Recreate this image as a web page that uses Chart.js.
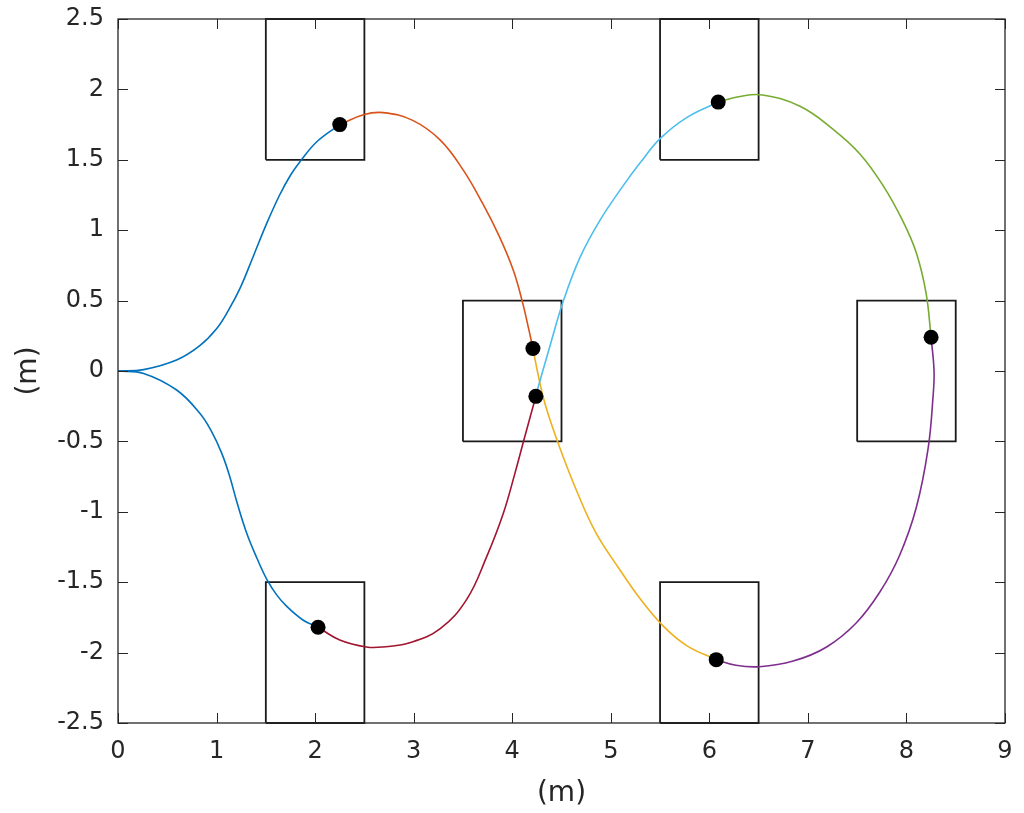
<!DOCTYPE html>
<html>
<head>
<meta charset="utf-8">
<script src="https://cdn.jsdelivr.net/npm/chart.js@4/dist/chart.umd.min.js"></script>
<style>
html,body{margin:0;padding:0;background:#fff;}
#wrap{width:1024px;height:813px;position:relative;}
</style>
</head>
<body>
<div id="wrap"><canvas id="c" width="1024" height="813"></canvas></div>
<script>
// ---- Data ----
const xTicks = [0,1,2,3,4,5,6,7,8,9];
const yTicks = [-2.5,-2,-1.5,-1,-0.5,0,0.5,1,1.5,2,2.5];
const xTickLabels = ['0','1','2','3','4','5','6','7','8','9'];
const yTickLabels = ['-2.5','-2','-1.5','-1','-0.5','0','0.5','1','1.5','2','2.5'];
const axisTitleX = '(m)';
const axisTitleY = '(m)';

const blueUpX = [0, 0.26, 0.60, 0.83, 1.00, 1.12, 1.24, 1.37, 1.51, 1.64, 1.75, 1.85, 2.02, 2.25];
const blueUpY = [0, 0.01, 0.08, 0.18, 0.30, 0.43, 0.59, 0.81, 1.05, 1.25, 1.39, 1.49, 1.63, 1.75];

const blueLowX = [0, 0.26, 0.595, 0.83, 0.95, 1.05, 1.13, 1.21, 1.31, 1.41, 1.51, 1.61, 1.71, 1.88, 2.03];
const blueLowY = [0, -0.017, -0.135, -0.30, -0.43, -0.58, -0.74, -0.94, -1.16, -1.33, -1.48, -1.59, -1.67, -1.77, -1.82];

const orangeX = [2.25, 2.49, 2.69, 2.99, 3.27, 3.50, 3.70, 3.87, 4.01, 4.10, 4.17, 4.21];
const orangeY = [1.75, 1.82, 1.835, 1.78, 1.64, 1.43, 1.19, 0.954, 0.717, 0.50, 0.29, 0.16];

const redX = [2.03, 2.25, 2.52, 2.69, 2.96, 3.27, 3.54, 3.74, 3.91, 4.03, 4.13, 4.24];
const redY = [-1.82, -1.91, -1.96, -1.96, -1.93, -1.83, -1.62, -1.32, -1.01, -0.72, -0.46, -0.18];

const cyanX = [4.24, 4.38, 4.52, 4.69, 4.89, 5.13, 5.30, 5.50, 5.77, 6.09];
const cyanY = [-0.17, 0.17, 0.50, 0.81, 1.07, 1.32, 1.48, 1.65, 1.80, 1.91];

const greenX = [6.09, 6.31, 6.54, 6.92, 7.25, 7.53, 7.76, 7.96, 8.10, 8.20, 8.25];
const greenY = [1.91, 1.95, 1.96, 1.88, 1.72, 1.54, 1.32, 1.07, 0.84, 0.55, 0.24];

const yellowX = [4.21, 4.27, 4.34, 4.48, 4.65, 4.85, 5.09, 5.30, 5.53, 5.77, 6.07];
const yellowY = [0.16, -0.05, -0.25, -0.54, -0.845, -1.15, -1.41, -1.62, -1.81, -1.95, -2.05];

const purpleX = [6.07, 6.27, 6.51, 6.85, 7.19, 7.49, 7.73, 7.93, 8.10, 8.22, 8.27, 8.28, 8.25];
const purpleY = [-2.05, -2.09, -2.10, -2.06, -1.96, -1.79, -1.57, -1.31, -0.97, -0.55, -0.18, 0.0, 0.24];

const dotX = [2.25, 2.03, 4.21, 4.24, 6.09, 6.07, 8.25];
const dotY = [1.75, -1.82, 0.16, -0.18, 1.91, -2.05, 0.24];

// rectangles: centre x, centre y, half width, half height
const boxCX = [2, 6, 4, 8, 2, 6];
const boxCY = [2, 2, 0, 0, -2, -2];
const boxHalfW = 0.5;
const boxHalfH = 0.5;

// ---- Build datasets ----
const pts = (xs, ys) => xs.map((x, i) => ({x: x, y: ys[i]}));
const curves = [
  {x: blueUpX, y: blueUpY, c: '#0072BD'},
  {x: blueLowX, y: blueLowY, c: '#0072BD'},
  {x: orangeX, y: orangeY, c: '#D95319'},
  {x: redX, y: redY, c: '#A2142F'},
  {x: cyanX, y: cyanY, c: '#4DBEEE'},
  {x: yellowX, y: yellowY, c: '#EDB120'},
  {x: greenX, y: greenY, c: '#77AC30'},
  {x: purpleX, y: purpleY, c: '#7E2F8E'}
];
const datasets = [];
datasets.push({
  type: 'scatter', data: pts(dotX, dotY), pointRadius: 7.5, pointHoverRadius: 7.5,
  backgroundColor: '#000', borderWidth: 0, order: 0
});
curves.forEach(cv => datasets.push({
  type: 'line', data: pts(cv.x, cv.y), borderColor: cv.c, borderWidth: 1.6,
  pointRadius: 0, fill: false, order: 1, tension: 0.4
}));
boxCX.forEach((cx, i) => {
  const cy = boxCY[i];
  datasets.push({
    type: 'line',
    data: [
      {x: cx - boxHalfW, y: cy - boxHalfH}, {x: cx + boxHalfW, y: cy - boxHalfH},
      {x: cx + boxHalfW, y: cy + boxHalfH}, {x: cx - boxHalfW, y: cy + boxHalfH},
      {x: cx - boxHalfW, y: cy - boxHalfH}
    ],
    borderColor: '#1a1a1a', borderWidth: 1.8, pointRadius: 0, tension: 0, fill: false,
    order: 2, clip: 4
  });
});

const TXT = '#262626';
const FONT = 'DejaVu Sans';

// frame + inward ticks on all four sides (MATLAB box style)
const framePlugin = {
  id: 'frame',
  afterDatasetsDraw(chart) {
    const {ctx, chartArea: a, scales} = chart;
    const L = 10;
    ctx.save();
    ctx.strokeStyle = TXT;
    ctx.lineWidth = 1;
    ctx.beginPath();
    scales.x.ticks.forEach(t => {
      const px = Math.round(scales.x.getPixelForValue(t.value)) + 0.5;
      ctx.moveTo(px, a.bottom); ctx.lineTo(px, a.bottom - L);
      ctx.moveTo(px, a.top); ctx.lineTo(px, a.top + L);
    });
    scales.y.ticks.forEach(t => {
      const py = Math.round(scales.y.getPixelForValue(t.value)) + 0.5;
      ctx.moveTo(a.left, py); ctx.lineTo(a.left + L, py);
      ctx.moveTo(a.right, py); ctx.lineTo(a.right - L, py);
    });
    ctx.stroke();
    ctx.lineWidth = 1.3;
    ctx.strokeRect(a.left, a.top, a.right - a.left, a.bottom - a.top);
    ctx.restore();
  }
};

new Chart(document.getElementById('c'), {
  data: {datasets: datasets},
  options: {
    responsive: false,
    animation: false,
    events: [],
    layout: {padding: {top: 19, right: 19, left: 0, bottom: 0}},
    plugins: {legend: {display: false}, tooltip: {enabled: false}},
    scales: {
      x: {
        type: 'linear', min: 0, max: 9,
        afterBuildTicks: s => { s.ticks = xTicks.map(v => ({value: v})); },
        afterFit: s => { s.height = 90; s.paddingLeft = 0; s.paddingRight = 0; },
        grid: {display: false, drawTicks: false},
        border: {display: false},
        ticks: {
          padding: 14, color: TXT, font: {family: FONT, size: 24},
          maxRotation: 0, autoSkip: false,
          callback: (v) => xTickLabels[xTicks.indexOf(v)]
        },
        title: {display: true, text: axisTitleX, color: TXT, font: {family: FONT, size: 28},
                padding: {top: 0, bottom: 2}}
      },
      y: {
        type: 'linear', min: -2.5, max: 2.5,
        afterBuildTicks: s => { s.ticks = yTicks.map(v => ({value: v})); },
        afterFit: s => { s.width = 118; s.paddingTop = 0; s.paddingBottom = 0; },
        grid: {display: false, drawTicks: false},
        border: {display: false},
        ticks: {
          padding: 14, color: TXT, font: {family: FONT, size: 24},
          autoSkip: false,
          callback: (v) => yTickLabels[yTicks.indexOf(v)]
        },
        title: {display: true, text: axisTitleY, color: TXT, font: {family: FONT, size: 28},
                padding: {top: 12, bottom: 0}}
      }
    }
  },
  plugins: [framePlugin]
});
</script>
</body>
</html>
